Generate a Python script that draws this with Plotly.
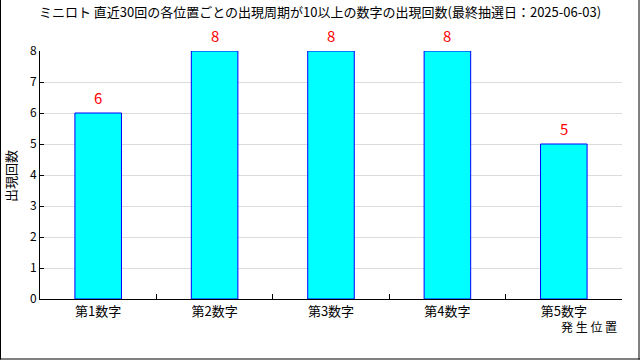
import plotly.graph_objects as go

categories = ["第1数字", "第2数字", "第3数字", "第4数字", "第5数字"]
counts = [6, 8, 8, 8, 5]
title_text = "ミニロト 直近30回の各位置ごとの出現周期が10以上の数字の出現回数(最終抽選日：2025-06-03)"
y_title = "出現回数"
x_title = "発 生 位 置"

FONT = "Noto Sans CJK JP"
L, R, T, B = 40, 18, 51, 61
W, H = 640, 360
pw, ph = W - L - R, H - T - B

fig = go.Figure()
fig.add_trace(go.Bar(
    x=categories, y=counts,
    marker=dict(color="#00FFFF", line=dict(color="#0000FF", width=1)),
    width=0.4,
    hoverinfo="skip",
))

for c, v in zip(categories, counts):
    fig.add_annotation(x=c, y=v, text=str(v), showarrow=False,
                       yanchor="bottom", yshift=3,
                       font=dict(color="#FF0000", size=15, family=FONT))

def px2x(p):
    return (p - L) / pw
def px2y(p):
    return (H - B - p) / ph

fig.add_annotation(xref="paper", yref="paper", x=px2x(619), y=px2y(316), text=x_title,
                   showarrow=False, xanchor="right", yanchor="top",
                   font=dict(size=12, color="#000000", family=FONT))

fig.add_annotation(xref="paper", yref="paper", x=px2x(10), y=px2y(176), text=y_title,
                   showarrow=False, xanchor="center", yanchor="middle", textangle=-90,
                   font=dict(size=13, color="#000000", family=FONT))

frame = dict(color="#000000", width=1)
fig.add_shape(type="line", xref="paper", yref="paper", x0=px2x(0.5), x1=px2x(0.5), y0=px2y(0), y1=px2y(359.5), line=frame)
fig.add_shape(type="line", xref="paper", yref="paper", x0=px2x(639), x1=px2x(639), y0=px2y(0), y1=px2y(359.5), line=frame)
fig.add_shape(type="line", xref="paper", yref="paper", x0=px2x(0), x1=px2x(640), y0=px2y(359), y1=px2y(359), line=frame)

fig.update_layout(
    width=W, height=H,
    margin=dict(l=L, r=R, t=T, b=B, autoexpand=False),
    paper_bgcolor="#FFFFFF", plot_bgcolor="#FFFFFF",
    font=dict(family=FONT, size=12, color="#000000"),
    title=dict(text=title_text, x=0.5, xanchor="center", y=1 - 12 / H, yanchor="middle",
               font=dict(size=13, family=FONT, color="#000000")),
    showlegend=False,
    bargap=0.6,
)
fig.update_xaxes(
    type="category", showline=True, linecolor="#000000", linewidth=1,
    ticks="inside", ticklen=5, tickcolor="#000000", tickson="boundaries",
    showgrid=False, tickfont=dict(size=13, family=FONT), zeroline=False,
    automargin=False,
)
fig.update_yaxes(
    range=[0, 8], dtick=1, showline=True, linecolor="#000000", linewidth=1,
    ticks="inside", ticklen=4, tickcolor="#000000",
    showgrid=True, gridcolor="#DCDCDC", gridwidth=1, zeroline=False,
    tickfont=dict(size=12, family=FONT), automargin=False,
)

fig.write_html("out.html")
